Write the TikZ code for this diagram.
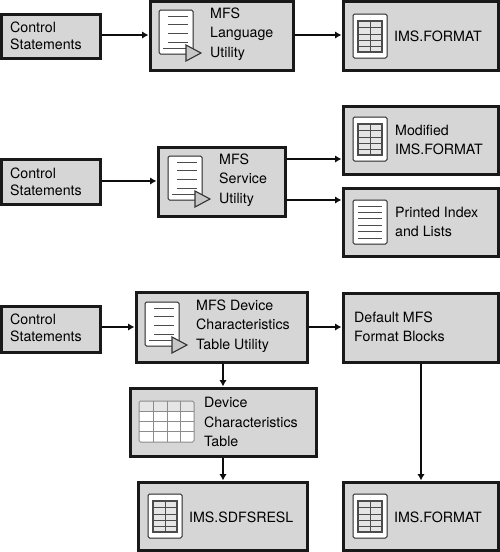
\documentclass[tikz,border=0pt]{standalone}
\usepackage{fontspec}
\setmainfont{TeX Gyre Heros}
\usetikzlibrary{arrows.meta}
\tikzset{
  blk/.style={draw=black!90,line width=3pt,fill=black!16,inner sep=0pt,outer sep=1.5pt},
  lbl/.style={anchor=west,inner sep=0pt,font=\fontsize{14.2}{19.5}\selectfont,align=left,text=black},
  lblc/.style={lbl,font=\fontsize{14.2}{17}\selectfont},
  conn/.style={line width=1.3pt,draw=black!95,-{Latex[length=6.5pt,width=7.5pt]}},
  paper/.style={draw=black!85,fill=white,line width=1pt,rounded corners=1.5pt},
  rule/.style={draw=black!70,line width=1pt},
  play/.style={draw=black!80,fill=black!22,line width=1.1pt,line join=miter}
}
% #1 name, #2 x0, #3 y0, #4 x1, #5 y1
\newcommand{\blockbox}[5]{%
  \node[blk,minimum width=#4pt-#2pt,minimum height=#5pt-#3pt] (#1) at ({(#2+#4)/2},{(#3+#5)/2}) {};}
% document with triangle, top-left #1,#2
\newcommand{\docicon}[2]{%
  \begin{scope}[shift={(#1,#2)}]
    \draw[paper] (0,0) rectangle (34,44);
    \foreach \yy in {6,14,23,32}{\draw[rule] (9,\yy) -- (29,\yy);}
    \draw[rule] (4,38) -- (27,38);
    \draw[play] (27,35) -- (42,43) -- (27,51) -- cycle;
  \end{scope}}
% table icon
\newcommand{\tabicon}[2]{%
  \begin{scope}[shift={(#1,#2)}]
    \draw[paper] (0,0) rectangle (34,44);
    \fill[black!10] (5,7) rectangle (29,38);
    \draw[draw=black!70,line width=1.1pt] (5,7) rectangle (29,38);
    \foreach \yy in {13.5,20,26,32}{\draw[rule] (5,\yy) -- (29,\yy);}
    \draw[rule] (17,7) -- (17,38);
  \end{scope}}
\begin{document}
\begin{tikzpicture}[x=1pt,y=-1pt]
\useasboundingbox (0,0) rectangle (500,552);
\blockbox{ca}{1}{14}{100}{58}
\blockbox{la}{150}{1}{293}{70}
\blockbox{fa}{343}{1}{498}{70}
\blockbox{cb}{1}{159}{100}{204}
\blockbox{sb}{158}{147}{285}{216}
\blockbox{mb}{343}{106}{498}{174}
\blockbox{pb}{343}{188}{498}{256}
\blockbox{cc}{1}{306}{100}{352}
\blockbox{dc}{136}{292}{307}{362}
\blockbox{df}{343}{293}{498}{362}
\blockbox{tc}{130}{388}{316}{456}
\blockbox{rc}{138}{482}{307}{550}
\blockbox{fc}{343}{482}{498}{550}

\node[lblc] (t1) at (10,36) {Control\\Statements};
\node[lblc] (t2) at (10,182) {Control\\Statements};
\node[lblc] (t3) at (10,328) {Control\\Statements};
\node[lbl] (t4) at (210,34) {MFS\\Language\\Utility};
\node[lbl] (t5) at (219,180) {MFS\\Service\\Utility};
\node[lbl] (t6) at (196,326) {MFS Device\\Characteristics\\Table Utility};
\node[lbl] (t7) at (394,36) {IMS.FORMAT};
\node[lbl] (t8) at (395,140) {Modified\\IMS.FORMAT};
\node[lbl] (t9) at (395,222) {Printed Index\\and Lists};
\node[lbl] (t10) at (354,327) {Default MFS\\Format Blocks};
\node[lbl] (t11) at (204,422) {Device\\Characteristics\\Table};
\node[lbl] (t12) at (189,517) {IMS.SDFSRESL};
\node[lbl] (t13) at (394,517) {IMS.FORMAT};

\docicon{159}{10}
\docicon{168}{156}
\docicon{145}{302}
\tabicon{353}{14}
\tabicon{353}{117}
\tabicon{148}{494}
\tabicon{353}{494}

% printed list icon
\begin{scope}[shift={(353,200)}]
  \draw[paper] (0,0) rectangle (34,44);
  \foreach \yy in {6,12,18.5,25,31,38}{\draw[rule] (5,\yy) -- (29,\yy);}
\end{scope}

% light grid table icon
\begin{scope}[shift={(139,401)}]
  \fill[white] (0,0) rectangle (55,41);
  \fill[black!10] (0,0) rectangle (55,10);
  \draw[draw=black!45,line width=1pt,rounded corners=1.5pt] (0,0) rectangle (55,41);
  \foreach \yy in {10,20,30}{\draw[draw=black!45,line width=1pt] (0,\yy) -- (55,\yy);}
  \foreach \xx in {14,28,41}{\draw[draw=black!45,line width=1pt] (\xx,0) -- (\xx,41);}
\end{scope}

\draw[conn] (ca.east |- 0,35) -- (la.west |- 0,35);
\draw[conn] (la.east |- 0,35) -- (fa.west |- 0,35);
\draw[conn] (cb.east |- 0,181) -- (sb.west |- 0,181);
\draw[conn] (sb.east |- 0,159) -- (mb.west |- 0,159);
\draw[conn] (sb.east |- 0,200) -- (pb.west |- 0,200);
\draw[conn] (cc.east |- 0,327) -- (dc.west |- 0,327);
\draw[conn] (dc.east |- 0,327) -- (df.west |- 0,327);
\draw[conn] (223,0 |- dc.south) -- (223,0 |- tc.north);
\draw[conn] (223,0 |- tc.south) -- (223,0 |- rc.north);
\draw[conn] (421,0 |- df.south) -- (421,0 |- fc.north);
\end{tikzpicture}
\end{document}
